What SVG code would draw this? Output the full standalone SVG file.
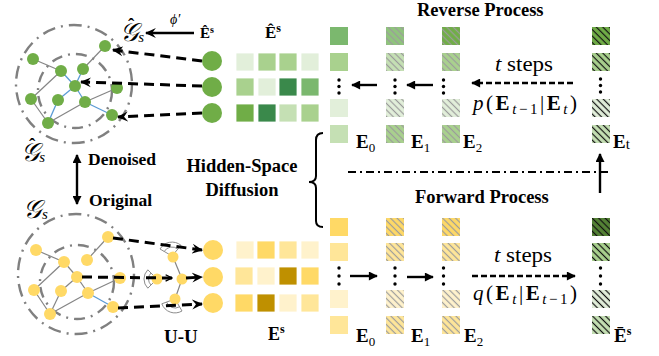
<svg xmlns="http://www.w3.org/2000/svg" width="659" height="356" viewBox="0 0 659 356">
<defs>
<style>
.bold{font-family:"Liberation Serif","Times New Roman",serif;font-weight:bold;fill:#000}
.serif{font-family:"Liberation Serif","Times New Roman",serif;fill:#000}
.it{font-style:italic}
.up{font-style:normal}
.ring-o{fill:none;stroke:#808080;stroke-width:2.4;stroke-dasharray:13 6 2 6}
.ring-i{fill:none;stroke:#808080;stroke-width:2.4;stroke-dasharray:11 6 2 6}
.edge{stroke:#858585;stroke-width:1.2;fill:none}
.edge-b{stroke:#5b9bd5;stroke-width:1.3;fill:none}
.gn{fill:#70ad47}
.yn{fill:#ffd966}
.cell{stroke:#ffffff;stroke-width:0.8}
.dash-big{stroke:#000;stroke-width:3;stroke-dasharray:10 6;fill:none}
.dash-p{stroke:#000;stroke-width:2.4;stroke-dasharray:6 3;fill:none}
.solid{stroke:#000;stroke-width:2.4;fill:none}
.fan{fill:none;stroke:#8c8c8c;stroke-width:1}
.dot{fill:#000}
</style>
<pattern id="hatchGray" width="4.6" height="4.6" patternUnits="userSpaceOnUse" patternTransform="rotate(-45)">
<line x1="2.3" y1="0" x2="2.3" y2="4.6" stroke="#9b9b9b" stroke-width="1.2"/>
</pattern>
<pattern id="hatchBlack" width="4.6" height="4.6" patternUnits="userSpaceOnUse" patternTransform="rotate(-45)">
<line x1="2.3" y1="0" x2="2.3" y2="4.6" stroke="#111" stroke-width="1.2"/>
</pattern>
<marker id="stealth" viewBox="0 0 10 10" refX="9" refY="5" markerWidth="11" markerHeight="11" markerUnits="userSpaceOnUse" orient="auto">
<path d="M0,0.5 L10,5 L0,9.5 L3.5,5 z" fill="#000"/>
</marker>
<marker id="tri" viewBox="0 0 10 10" refX="9" refY="5" markerWidth="10" markerHeight="9" markerUnits="userSpaceOnUse" orient="auto">
<path d="M0,0 L10,5 L0,10 z" fill="#000"/>
</marker>
<marker id="thin" viewBox="0 0 10 10" refX="9" refY="5" markerWidth="8" markerHeight="8" markerUnits="userSpaceOnUse" orient="auto">
<path d="M1,1 L9,5 L1,9" fill="none" stroke="#000" stroke-width="1.6"/>
</marker>
</defs>

<rect width="659" height="356" fill="#fff"/>

<!-- denoised graph -->
<g id="graph-denoised">
<ellipse class="ring-o" cx="74" cy="84" rx="58" ry="59"/>
<circle class="ring-i" cx="75" cy="91" r="37"/>
<line class="edge" x1="33" y1="59" x2="61" y2="71"/>
<line class="edge" x1="61" y1="71" x2="31" y2="99"/>
<line class="edge" x1="105" y1="46" x2="83" y2="69"/>
<line class="edge" x1="31" y1="99" x2="48" y2="123"/>
<line class="edge" x1="48" y1="123" x2="85" y2="102"/>
<line class="edge" x1="85" y1="102" x2="117" y2="88"/>
<line class="edge-b" x1="61" y1="71" x2="75" y2="86"/>
<line class="edge-b" x1="83" y1="69" x2="75" y2="86"/>
<line class="edge-b" x1="75" y1="86" x2="58" y2="100"/>
<line class="edge-b" x1="58" y1="100" x2="48" y2="123"/>
<line class="edge-b" x1="75" y1="86" x2="85" y2="102"/>
<line class="edge-b" x1="85" y1="102" x2="112" y2="115"/>
<circle class="gn" cx="33" cy="59" r="6"/>
<circle class="gn" cx="61" cy="71" r="6"/>
<circle class="gn" cx="83" cy="69" r="6"/>
<circle class="gn" cx="105" cy="46" r="6"/>
<circle class="gn" cx="75" cy="86" r="6"/>
<circle class="gn" cx="31" cy="99" r="6"/>
<circle class="gn" cx="58" cy="100" r="6"/>
<circle class="gn" cx="85" cy="102" r="6"/>
<circle class="gn" cx="117" cy="88" r="6"/>
<circle class="gn" cx="48" cy="123" r="6"/>
<circle class="gn" cx="112" cy="115" r="6"/>
</g>

<!-- original graph -->
<g id="graph-original">
<ellipse class="ring-o" cx="76" cy="274" rx="58" ry="60"/>
<circle class="ring-i" cx="77" cy="282" r="37"/>
<line class="edge" x1="36" y1="250" x2="64" y2="262"/>
<line class="edge" x1="64" y1="262" x2="34" y2="290"/>
<line class="edge" x1="108" y1="237" x2="87" y2="260"/>
<line class="edge" x1="34" y1="290" x2="50" y2="314"/>
<line class="edge" x1="50" y1="314" x2="88" y2="293"/>
<line class="edge" x1="88" y1="293" x2="120" y2="278"/>
<line class="edge" x1="64" y1="262" x2="77" y2="277"/>
<line class="edge" x1="77" y1="277" x2="61" y2="291"/>
<line class="edge" x1="61" y1="291" x2="50" y2="314"/>
<line class="edge" x1="77" y1="277" x2="88" y2="293"/>
<line class="edge-b" x1="88" y1="293" x2="113" y2="307"/>
<circle class="yn" cx="36" cy="250" r="6"/>
<circle class="yn" cx="64" cy="262" r="6"/>
<circle class="yn" cx="87" cy="260" r="6"/>
<circle class="yn" cx="108" cy="237" r="6"/>
<circle class="yn" cx="77" cy="277" r="6"/>
<circle class="yn" cx="34" cy="290" r="6"/>
<circle class="yn" cx="61" cy="291" r="6"/>
<circle class="yn" cx="88" cy="293" r="6"/>
<circle class="yn" cx="120" cy="278" r="6"/>
<circle class="yn" cx="50" cy="314" r="6"/>
<circle class="yn" cx="113" cy="307" r="6"/>
</g>

<!-- U-U aggregation -->
<g id="uu-block">
<line class="edge" x1="173" y1="257" x2="182" y2="279"/>
<line class="edge" x1="182" y1="279" x2="175" y2="299"/>
<path class="fan" d="M172,256 L160,249 A14,14 0 0 1 181,245.3 Z M164.2,251.5 A9,9 0 0 1 177.8,249.1"/>
<path class="fan" d="M157,279 L147.8,288.2 A13,13 0 0 1 147.8,269.8 Z M151,285 A8.5,8.5 0 0 1 151,273"/>
<path class="fan" d="M175,299 L182,311 A14,14 0 0 1 161.8,303.8 Z M179.5,306.8 A9,9 0 0 1 166.5,302"/>
<circle class="yn" cx="173" cy="257" r="5.5"/>
<circle class="yn" cx="157" cy="279" r="5.5"/>
<circle class="yn" cx="182" cy="279" r="5.5"/>
<circle class="yn" cx="175" cy="299" r="5.5"/>
</g>

<!-- embedding nodes -->
<g id="emb-denoised">
<circle class="gn" cx="212" cy="61" r="10"/>
<circle class="gn" cx="212" cy="87" r="10"/>
<circle class="gn" cx="212" cy="113" r="10"/>
</g>
<g id="emb-original">
<circle class="yn" cx="213" cy="250" r="10"/>
<circle class="yn" cx="213" cy="277" r="10"/>
<circle class="yn" cx="213" cy="303" r="10"/>
</g>

<!-- embedding matrices -->
<g id="matrix-hat">
<rect class="cell" x="236" y="53" width="18" height="18" fill="#e2efda"/>
<rect class="cell" x="258" y="53" width="18" height="18" fill="#a9d18e"/>
<rect class="cell" x="279" y="53" width="18" height="18" fill="#a9d18e"/>
<rect class="cell" x="301" y="53" width="18" height="18" fill="#e2efda"/>
<rect class="cell" x="236" y="78" width="18" height="18" fill="#a9d18e"/>
<rect class="cell" x="258" y="78" width="18" height="18" fill="#e2efda"/>
<rect class="cell" x="279" y="78" width="18" height="18" fill="#3a894b"/>
<rect class="cell" x="301" y="78" width="18" height="18" fill="#7bb86e"/>
<rect class="cell" x="236" y="104" width="18" height="18" fill="#70ad47"/>
<rect class="cell" x="258" y="104" width="18" height="18" fill="#3a894b"/>
<rect class="cell" x="279" y="104" width="18" height="18" fill="#c5e0b4"/>
<rect class="cell" x="301" y="104" width="18" height="18" fill="#a9d18e"/>
<text class="bold" x="265" y="38" font-size="17">Ê<tspan font-size="12" dy="-6">s</tspan></text>
</g>
<g id="matrix-orig">
<rect class="cell" x="236" y="241" width="18" height="18" fill="#fff2cc"/>
<rect class="cell" x="257" y="241" width="18" height="18" fill="#ffd966"/>
<rect class="cell" x="279" y="241" width="18" height="18" fill="#ffe699"/>
<rect class="cell" x="301" y="241" width="18" height="18" fill="#fff2cc"/>
<rect class="cell" x="235" y="267" width="18" height="18" fill="#ffe699"/>
<rect class="cell" x="257" y="267" width="18" height="18" fill="#fff2cc"/>
<rect class="cell" x="279" y="267" width="18" height="18" fill="#bf9000"/>
<rect class="cell" x="301" y="267" width="18" height="18" fill="#ffd966"/>
<rect class="cell" x="235" y="294" width="18" height="18" fill="#ffd966"/>
<rect class="cell" x="257" y="294" width="18" height="18" fill="#bf9000"/>
<rect class="cell" x="279" y="294" width="18" height="18" fill="#fff2cc"/>
<rect class="cell" x="301" y="294" width="18" height="18" fill="#ffe699"/>
<text class="bold" x="268" y="340" font-size="18">E<tspan font-size="12" dy="-7">s</tspan></text>
</g>

<!-- reverse process columns -->
<g id="rev-E0">
<rect x="330" y="27" width="18" height="18" fill="#7bb86e"/>
<rect x="330" y="53" width="18" height="18" fill="#a9d18e"/>
<rect x="330" y="99" width="18" height="18" fill="#e2efda"/>
<rect x="330" y="125" width="18" height="18" fill="#c5e0b4"/>
<circle class="dot" cx="339" cy="80" r="1.7"/><circle class="dot" cx="339" cy="86.5" r="1.7"/><circle class="dot" cx="339" cy="93" r="1.7"/>
<text class="bold" x="356" y="148" font-size="19">E<tspan class="serif" font-weight="normal" font-size="13" dy="4">0</tspan></text>
</g>
<g id="rev-E1">
<rect x="386" y="27" width="18" height="18" fill="#8fc47c"/><rect x="386" y="27" width="18" height="18" fill="url(#hatchGray)"/>
<rect x="386" y="53" width="18" height="18" fill="#c5e0b4"/><rect x="386" y="53" width="18" height="18" fill="url(#hatchGray)"/>
<rect x="386" y="99" width="18" height="18" fill="#e2efda"/><rect x="386" y="99" width="18" height="18" fill="url(#hatchGray)"/>
<rect x="386" y="125" width="18" height="18" fill="#a9d18e"/><rect x="386" y="125" width="18" height="18" fill="url(#hatchGray)"/>
<circle class="dot" cx="395" cy="80" r="1.7"/><circle class="dot" cx="395" cy="86.5" r="1.7"/><circle class="dot" cx="395" cy="93" r="1.7"/>
<text class="bold" x="411" y="148" font-size="19">E<tspan class="serif" font-weight="normal" font-size="13" dy="4">1</tspan></text>
</g>
<g id="rev-E2">
<rect x="442" y="27" width="18" height="18" fill="#70ad47"/><rect x="442" y="27" width="18" height="18" fill="url(#hatchGray)"/>
<rect x="442" y="53" width="18" height="18" fill="#a9d18e"/><rect x="442" y="53" width="18" height="18" fill="url(#hatchGray)"/>
<rect x="442" y="99" width="18" height="18" fill="#e2efda"/><rect x="442" y="99" width="18" height="18" fill="url(#hatchGray)"/>
<rect x="442" y="125" width="18" height="18" fill="#a9d18e"/><rect x="442" y="125" width="18" height="18" fill="url(#hatchGray)"/>
<circle class="dot" cx="443.5" cy="80" r="1.7"/><circle class="dot" cx="443.5" cy="86.5" r="1.7"/><circle class="dot" cx="443.5" cy="93" r="1.7"/>
<text class="bold" x="463" y="148" font-size="19">E<tspan class="serif" font-weight="normal" font-size="13" dy="4">2</tspan></text>
</g>
<g id="rev-Et">
<rect x="592" y="27" width="18" height="18" fill="#70ad47"/><rect x="592" y="27" width="18" height="18" fill="url(#hatchBlack)"/>
<rect x="592" y="53" width="18" height="18" fill="#a9d18e"/><rect x="592" y="53" width="18" height="18" fill="url(#hatchBlack)"/>
<rect x="592" y="99" width="18" height="18" fill="#e2efda"/><rect x="592" y="99" width="18" height="18" fill="url(#hatchBlack)"/>
<rect x="592" y="125" width="18" height="18" fill="#c5e0b4"/><rect x="592" y="125" width="18" height="18" fill="url(#hatchBlack)"/>
<circle class="dot" cx="600.5" cy="79" r="1.7"/><circle class="dot" cx="600.5" cy="85.5" r="1.7"/><circle class="dot" cx="600.5" cy="92" r="1.7"/>
<text class="bold" x="613" y="148" font-size="19">E<tspan class="serif" font-weight="normal" font-size="15" dy="1">t</tspan></text>
</g>

<!-- forward process columns -->
<g id="fwd-E0">
<rect x="330" y="218" width="18" height="18" fill="#ffd966"/>
<rect x="330" y="243" width="18" height="18" fill="#ffe699"/>
<rect x="330" y="290" width="18" height="18" fill="#fff2cc"/>
<rect x="330" y="316" width="18" height="18" fill="#ffe699"/>
<circle class="dot" cx="339" cy="268" r="1.7"/><circle class="dot" cx="339" cy="276" r="1.7"/><circle class="dot" cx="339" cy="284" r="1.7"/>
<text class="bold" x="356" y="342" font-size="19">E<tspan class="serif" font-weight="normal" font-size="13" dy="4">0</tspan></text>
</g>
<g id="fwd-E1">
<rect x="386" y="218" width="18" height="18" fill="#ffd966"/><rect x="386" y="218" width="18" height="18" fill="url(#hatchGray)"/>
<rect x="386" y="243" width="18" height="18" fill="#ffe699"/><rect x="386" y="243" width="18" height="18" fill="url(#hatchGray)"/>
<rect x="386" y="290" width="18" height="18" fill="#fff2cc"/><rect x="386" y="290" width="18" height="18" fill="url(#hatchGray)"/>
<rect x="386" y="316" width="18" height="18" fill="#ffe699"/><rect x="386" y="316" width="18" height="18" fill="url(#hatchGray)"/>
<circle class="dot" cx="395" cy="268" r="1.7"/><circle class="dot" cx="395" cy="276" r="1.7"/><circle class="dot" cx="395" cy="284" r="1.7"/>
<text class="bold" x="411" y="342" font-size="19">E<tspan class="serif" font-weight="normal" font-size="13" dy="4">1</tspan></text>
</g>
<g id="fwd-E2">
<rect x="442" y="218" width="18" height="18" fill="#ffd966"/><rect x="442" y="218" width="18" height="18" fill="url(#hatchGray)"/>
<rect x="442" y="243" width="18" height="18" fill="#ffe699"/><rect x="442" y="243" width="18" height="18" fill="url(#hatchGray)"/>
<rect x="442" y="290" width="18" height="18" fill="#fff2cc"/><rect x="442" y="290" width="18" height="18" fill="url(#hatchGray)"/>
<rect x="442" y="316" width="18" height="18" fill="#ffe699"/><rect x="442" y="316" width="18" height="18" fill="url(#hatchGray)"/>
<circle class="dot" cx="443.5" cy="268" r="1.7"/><circle class="dot" cx="443.5" cy="276" r="1.7"/><circle class="dot" cx="443.5" cy="284" r="1.7"/>
<text class="bold" x="464" y="342" font-size="19">E<tspan class="serif" font-weight="normal" font-size="13" dy="4">2</tspan></text>
</g>
<g id="fwd-Ebar">
<rect x="592" y="218" width="18" height="18" fill="#548235"/><rect x="592" y="218" width="18" height="18" fill="url(#hatchBlack)"/>
<rect x="592" y="243" width="18" height="18" fill="#a9d18e"/><rect x="592" y="243" width="18" height="18" fill="url(#hatchBlack)"/>
<rect x="592" y="290" width="18" height="18" fill="#e2efda"/><rect x="592" y="290" width="18" height="18" fill="url(#hatchBlack)"/>
<rect x="592" y="316" width="18" height="18" fill="#c5e0b4"/><rect x="592" y="316" width="18" height="18" fill="url(#hatchBlack)"/>
<circle class="dot" cx="600.5" cy="268" r="1.7"/><circle class="dot" cx="600.5" cy="276" r="1.7"/><circle class="dot" cx="600.5" cy="284" r="1.7"/>
<text class="bold" x="614" y="342" font-size="19">Ē<tspan font-size="12" dy="-7">s</tspan></text>
</g>

<!-- labels -->
<g id="labels">
<text class="bold" x="417" y="16" font-size="18.5">Reverse Process</text>
<text class="bold" x="415" y="203" font-size="18.5">Forward Process</text>
<text class="bold" x="242" y="172" font-size="18.5" text-anchor="middle">Hidden-Space</text>
<text class="bold" x="242" y="196" font-size="18.5" text-anchor="middle">Diffusion</text>
<text class="bold" x="88" y="165" font-size="17.5">Denoised</text>
<text class="bold" x="89" y="206" font-size="17.5">Original</text>
<text class="bold" x="164" y="343" font-size="19">U-U</text>
<text class="serif" x="495" y="71" font-size="21" textLength="58" lengthAdjust="spacingAndGlyphs"><tspan class="it">t</tspan> steps</text>
<text class="serif" x="494" y="262" font-size="21" textLength="58" lengthAdjust="spacingAndGlyphs"><tspan class="it">t</tspan> steps</text>
<text class="serif" x="473" y="110" font-size="21" textLength="104" lengthAdjust="spacing"><tspan class="it">p</tspan>(<tspan font-weight="bold">E</tspan><tspan font-size="15" dy="4"><tspan class="it">t</tspan>−1</tspan><tspan dy="-4">|</tspan><tspan font-weight="bold">E</tspan><tspan class="it" font-size="15" dy="4">t</tspan><tspan dy="-4">)</tspan></text>
<text class="serif" x="473" y="300" font-size="21" textLength="104" lengthAdjust="spacing"><tspan class="it">q</tspan>(<tspan font-weight="bold">E</tspan><tspan class="it" font-size="15" dy="4">t</tspan><tspan dy="-4">|</tspan><tspan font-weight="bold">E</tspan><tspan font-size="15" dy="4"><tspan class="it">t</tspan>−1</tspan><tspan dy="-4">)</tspan></text>
<text class="serif it" x="120" y="41" font-size="26">𝒢<tspan class="up" font-weight="bold" font-size="19" dx="-11" dy="-10">ˆ</tspan><tspan font-size="15" dx="4" dy="11">s</tspan></text>
<text class="serif it" x="21" y="161" font-size="26">𝒢<tspan class="up" font-weight="bold" font-size="19" dx="-11" dy="-10">ˆ</tspan><tspan font-size="15" dx="4" dy="11">s</tspan></text>
<text class="serif it" x="23" y="218" font-size="26">𝒢<tspan font-size="15" dy="1">s</tspan></text>
<text class="serif it" x="170" y="24" font-size="14">ϕ′</text>
<text class="bold" x="200" y="38" font-size="15">Ê<tspan font-size="10" dy="-5">s</tspan></text>
</g>

<!-- connectors -->
<g id="connectors">
<line class="dash-big" x1="202" y1="61" x2="113" y2="50" marker-end="url(#stealth)"/>
<line class="dash-big" x1="202" y1="86" x2="81" y2="82" marker-end="url(#stealth)"/>
<line class="dash-big" x1="202" y1="113" x2="118" y2="117" marker-end="url(#stealth)"/>
<line class="dash-big" x1="113" y1="238" x2="202" y2="250" marker-end="url(#stealth)"/>
<line class="dash-big" x1="82" y1="277" x2="172" y2="278" marker-end="url(#thin)"/>
<line class="dash-big" x1="186" y1="278" x2="202" y2="277" marker-end="url(#stealth)"/>
<line class="dash-big" x1="118" y1="308" x2="202" y2="304" marker-end="url(#stealth)"/>
<line class="solid" x1="194" y1="33" x2="146" y2="33" stroke-width="2" marker-end="url(#stealth)"/>
<line class="solid" x1="77" y1="162" x2="77" y2="155" stroke-width="1.6" marker-end="url(#tri)"/>
<line class="solid" x1="77" y1="162" x2="77" y2="204" stroke-width="1.6" marker-end="url(#tri)"/>
<line class="solid" x1="377" y1="85" x2="352" y2="85" marker-end="url(#tri)"/>
<line class="solid" x1="433" y1="85" x2="407" y2="85" marker-end="url(#tri)"/>
<line class="solid" x1="350" y1="276" x2="377" y2="276" marker-end="url(#tri)"/>
<line class="solid" x1="407" y1="277" x2="433" y2="277" marker-end="url(#tri)"/>
<line class="dash-p" x1="573" y1="83" x2="472" y2="83" marker-end="url(#tri)"/>
<line class="dash-p" x1="472" y1="276" x2="575" y2="276" marker-end="url(#tri)"/>
<line class="solid" x1="600" y1="193" x2="600" y2="154" marker-end="url(#tri)"/>
<line x1="348" y1="172" x2="610" y2="172" stroke="#000" stroke-width="2" stroke-dasharray="8 4 2 4"/>
<path d="M323,133 Q316,133 316,140 L316,176 Q316,182 309,182 Q316,182 316,188 L316,221 Q316,227 323,227" fill="none" stroke="#000" stroke-width="2"/>
</g>
</svg>
